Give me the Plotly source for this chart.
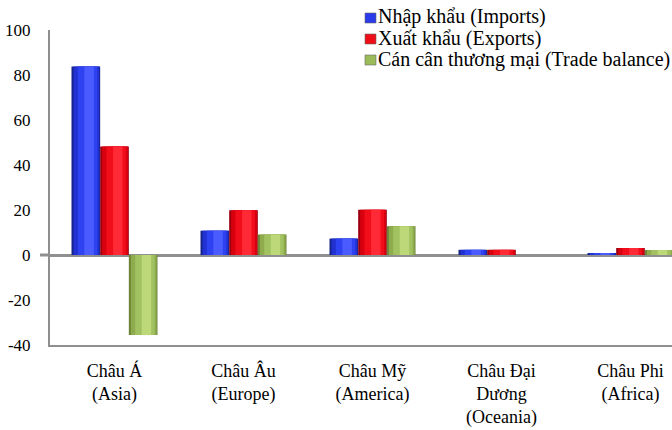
import plotly.graph_objects as go

# Trade by region, billion USD
regions = ["Châu Á<br>(Asia)", "Châu Âu<br>(Europe)", "Châu Mỹ<br>(America)",
           "Châu Đại<br>Dương<br>(Oceania)", "Châu Phi<br>(Africa)"]
imports = [83.8, 10.8, 7.3, 2.3, 0.9]
exports = [48.2, 19.9, 20.1, 2.3, 3.1]
balance = [-35.6, 9.1, 12.8, 0.0, 2.2]

series_names = ["Nhập khẩu (Imports)", "Xuất khẩu (Exports)",
                "Cán cân thương mại (Trade balance)"]
y_ticks = [-40, -20, 0, 20, 40, 60, 80, 100]

FONT = "Liberation Serif"
W, H = 672, 430
ML, MR, MT, MB = 50, 0, 30, 85
PW, PH = W - ML - MR, H - MT - MB

# cylinder-like shading: (left, right) fraction of bar width, colour
shades = [
    [(0.0, 1.0, "#16238a"), (0.07, 0.97, "#2231d2"), (0.22, 0.9, "#2e42f2"),
     (0.45, 0.78, "#4a5cff")],
    [(0.0, 1.0, "#9a0010"), (0.07, 0.97, "#d8000f"), (0.22, 0.9, "#f20d1a"),
     (0.45, 0.78, "#ff2a35")],
    [(0.0, 1.0, "#6b8436"), (0.07, 0.97, "#8eab4e"), (0.22, 0.9, "#a2c160"),
     (0.45, 0.78, "#bcd878")],
]
legend_colors = ["#2a3bea", "#ee0e18", "#9bbb59"]

bar_w = 0.2222
group_left = -1.5 * bar_w

fig = go.Figure()
for i, vals in enumerate([imports, exports, balance]):
    left = group_left + i * bar_w
    for a, b, col in shades[i]:
        fig.add_trace(go.Bar(
            x=regions, y=vals, name=series_names[i],
            offset=left + a * bar_w, width=(b - a) * bar_w,
            marker=dict(color=col, line=dict(width=0)),
            showlegend=False, hoverinfo="skip",
        ))

def px_x(p):
    return (p - ML) / PW

def px_y(p):
    return (H - MB - p) / PH

shapes = []
annotations = []
# legend: swatch + label
for i, name in enumerate(series_names):
    cy = 18 + i * 21
    shapes.append(dict(type="rect", xref="paper", yref="paper",
                       x0=px_x(365), x1=px_x(376), y0=px_y(cy + 5), y1=px_y(cy - 5),
                       fillcolor=legend_colors[i], line=dict(width=0.6, color="#6a6a6a")))
    annotations.append(dict(xref="paper", yref="paper", x=px_x(376), y=px_y(cy - 1),
                            xanchor="left", yanchor="middle", showarrow=False,
                            text=name, font=dict(family=FONT, size=20, color="black")))

# short stub of the zero line left of the axis
shapes.append(dict(type="line", xref="paper", yref="y", x0=px_x(40), x1=0, y0=0, y1=0,
                   line=dict(color="#8f8f8f", width=3)))

# unit caption above the plot
annotations.append(dict(xref="paper", yref="paper", x=px_x(4), y=px_y(-1),
                        xanchor="left", yanchor="bottom", showarrow=False,
                        text="Tỷ USD (Billion USD)",
                        font=dict(family=FONT, size=17, color="black")))

fig.update_layout(
    width=W, height=H,
    margin=dict(l=ML, r=MR, t=MT, b=MB, pad=0),
    paper_bgcolor="white", plot_bgcolor="white",
    barmode="overlay",
    showlegend=False,
    shapes=shapes, annotations=annotations,
    font=dict(family=FONT, color="black"),
)
fig.update_xaxes(
    type="category", range=[-0.5, -0.5 + PW / 129.0],
    showline=True, linecolor="#8f8f8f", linewidth=2,
    showgrid=False, ticks="outside", ticklen=8, tickcolor="rgba(0,0,0,0)",
    tickfont=dict(family=FONT, size=18, color="black"),
    fixedrange=True,
)
fig.update_yaxes(
    range=[-40, 100], tickvals=y_ticks, ticktext=[str(v) for v in y_ticks],
    showline=True, linecolor="#8f8f8f", linewidth=2,
    showgrid=False, zeroline=True, zerolinecolor="#8f8f8f", zerolinewidth=3,
    ticks="outside", ticklen=14, tickcolor="rgba(0,0,0,0)",
    tickfont=dict(family=FONT, size=17, color="black"),
    fixedrange=True,
)

fig.write_html("out.html")
